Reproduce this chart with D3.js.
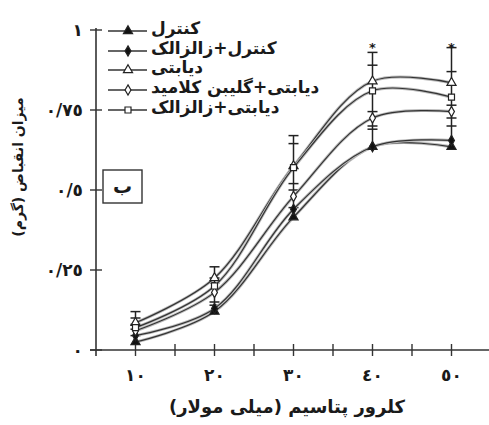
<!DOCTYPE html>
<html><head><meta charset="utf-8">
<script src="https://cdn.jsdelivr.net/npm/d3@7"></script>
<style>
html,body{margin:0;padding:0;background:#fff;}
svg{display:block;}
text{font-family:"DejaVu Sans",sans-serif;fill:#1a1a1a;}
</style></head>
<body>
<svg id="chart" width="489" height="425"></svg>
<script>
const xValues = [10, 20, 30, 40, 50];
const xTickLabels = ["١٠", "٢٠", "٣٠", "٤٠", "٥٠"];
const xMinorTicks = [15, 25, 35, 45];
const yTicks = [0, 0.25, 0.5, 0.75, 1];
const yTickLabels = ["٠", "٠/٢٥", "٠/٥", "٠/٧٥", "١"];
const seriesNames = ["کنترل", "کنترل+زالزالک", "دیابتی", "دیابتی+گلیبن کلامید", "دیابتی+زالزالک"];
const seriesSymbols = ["triangleFilled", "diamondFilled", "triangleOpen", "diamondOpen", "squareOpen"];
const controlVals = [0.025, 0.12, 0.415, 0.635, 0.635];
const controlHawVals = [0.045, 0.13, 0.44, 0.635, 0.655];
const diabVals = [0.085, 0.225, 0.575, 0.84, 0.835];
const diabGlibVals = [0.06, 0.18, 0.48, 0.725, 0.745];
const diabHawVals = [0.07, 0.2, 0.57, 0.81, 0.79];
const controlErr = [0.02, 0.02, 0.03, 0.055, 0.065];
const controlHawErr = [0.02, 0.02, 0.06, 0.065, 0.07];
const diabErr = [0.035, 0.035, 0.095, 0.09, 0.11];
const diabGlibErr = [0.02, 0.03, 0.04, 0.02, 0.02];
const diabHawErr = [0.03, 0.025, 0.075, 0.08, 0.08];
const starXs = [40, 50];
const starLevel = 0.955;
const xTitle = "کلرور پتاسیم (میلی مولار)";
const yTitle = "میزان انقباض (گرم)";
const panelLabel = "ب";

const allVals = [controlVals, controlHawVals, diabVals, diabGlibVals, diabHawVals];
const allErr = [controlErr, controlHawErr, diabErr, diabGlibErr, diabHawErr];

const svg = d3.select("#chart");
const x = d3.scaleLinear().domain([5, 55]).range([96, 491]);
const y = d3.scaleLinear().domain([0, 1]).range([350, 30]);
const axisColor = "#333";

// axes lines
svg.append("line").attr("x1", x(5)).attr("x2", x(5)).attr("y1", y(1) - 2).attr("y2", y(0) + 6)
  .attr("stroke", axisColor).attr("stroke-width", 1.6);
svg.append("line").attr("x1", x(5) - 6).attr("x2", 489).attr("y1", y(0)).attr("y2", y(0))
  .attr("stroke", axisColor).attr("stroke-width", 1.6);

// y ticks
svg.selectAll(".yt").data(yTicks).enter().append("line")
  .attr("x1", x(5) - 6).attr("x2", x(5) + 6)
  .attr("y1", d => y(d)).attr("y2", d => y(d))
  .attr("stroke", axisColor).attr("stroke-width", 1.4);
svg.selectAll(".ytl").data(yTicks).enter().append("text")
  .attr("x", 83).attr("y", d => y(d) + 6)
  .attr("text-anchor", "end").attr("font-size", 17).attr("font-weight", "bold")
  .text((d, i) => yTickLabels[i]);

// x ticks
svg.selectAll(".xt").data(xValues.concat(xMinorTicks)).enter().append("line")
  .attr("x1", d => x(d)).attr("x2", d => x(d))
  .attr("y1", y(0) - 6).attr("y2", y(0) + 6)
  .attr("stroke", axisColor).attr("stroke-width", 1.4);
svg.selectAll(".xtl").data(xValues).enter().append("text")
  .attr("x", d => x(d)).attr("y", y(0) + 31)
  .attr("text-anchor", "middle").attr("font-size", 17).attr("font-weight", "bold")
  .text((d, i) => xTickLabels[i]);

// titles
svg.append("text").attr("x", 287).attr("y", 413).attr("text-anchor", "middle")
  .attr("font-size", 18).attr("font-weight", "bold").text(xTitle);
svg.append("text").attr("transform", "translate(23,167) rotate(-90)").attr("text-anchor", "middle")
  .attr("font-size", 14).attr("font-weight", "bold").text(yTitle);

// panel label box
svg.append("rect").attr("x", 103).attr("y", 170).attr("width", 39).attr("height", 33)
  .attr("fill", "#fff").attr("stroke", axisColor).attr("stroke-width", 1.4);
svg.append("text").attr("x", 122.5).attr("y", 193).attr("text-anchor", "middle")
  .attr("font-size", 19).attr("font-weight", "bold").text(panelLabel);

// error bars: main vertical line at each x spanning all
xValues.forEach((xv, i) => {
  let lo = d3.min(allVals, v => v[i]);
  let hi = d3.max(allVals.map((v, k) => v[i] + allErr[k][i]));
  svg.append("line").attr("x1", x(xv)).attr("x2", x(xv)).attr("y1", y(lo)).attr("y2", y(hi))
    .attr("stroke", "#222").attr("stroke-width", 1.5);
});
allVals.forEach((vals, k) => {
  svg.selectAll(null).data(vals).enter().append("line")
    .attr("x1", (d, i) => x(xValues[i]) - 5).attr("x2", (d, i) => x(xValues[i]) + 5)
    .attr("y1", (d, i) => y(d + allErr[k][i])).attr("y2", (d, i) => y(d + allErr[k][i]))
    .attr("stroke", "#222").attr("stroke-width", 1.5);
});

// stars
svg.selectAll(".star").data(starXs).enter().append("text")
  .attr("x", d => x(d)).attr("y", y(starLevel) + 8).attr("text-anchor", "middle")
  .attr("font-size", 13).attr("font-weight", "bold").text("*");

// lines
const line = d3.line().x((d, i) => x(xValues[i])).y(d => y(d)).curve(d3.curveCatmullRom);
allVals.forEach(vals => {
  svg.append("path").attr("d", line(vals)).attr("fill", "none")
    .attr("stroke", "#bbb").attr("stroke-width", 3);
  svg.append("path").attr("d", line(vals)).attr("fill", "none")
    .attr("stroke", "#333").attr("stroke-width", 1.2);
});

function drawSymbol(g, type, cx, cy) {
  const filled = type.endsWith("Filled");
  let path;
  if (type.startsWith("triangle")) path = d3.symbol(d3.symbolTriangle, 36)();
  else if (type.startsWith("diamond")) path = d3.symbol(d3.symbolDiamond, 30)();
  else path = d3.symbol(d3.symbolSquare, 36)();
  g.append("path").attr("d", path).attr("transform", `translate(${cx},${cy})`)
    .attr("fill", filled ? "#111" : "#fff").attr("stroke", "#222").attr("stroke-width", 1.2);
}
allVals.forEach((vals, k) => {
  vals.forEach((v, i) => drawSymbol(svg, seriesSymbols[k], x(xValues[i]), y(v)));
});

// legend
const legRows = [31, 51, 70, 90, 110];
seriesNames.forEach((name, k) => {
  const ly = legRows[k];
  svg.append("line").attr("x1", 108).attr("x2", 147).attr("y1", ly).attr("y2", ly)
    .attr("stroke", "#333").attr("stroke-width", 1.3);
  drawSymbol(svg, seriesSymbols[k], 128, ly);
  svg.append("text").attr("x", 151).attr("y", ly + 3).attr("font-size", 17).attr("font-weight", "bold")
    .text(name);
});
</script>
</body></html>
